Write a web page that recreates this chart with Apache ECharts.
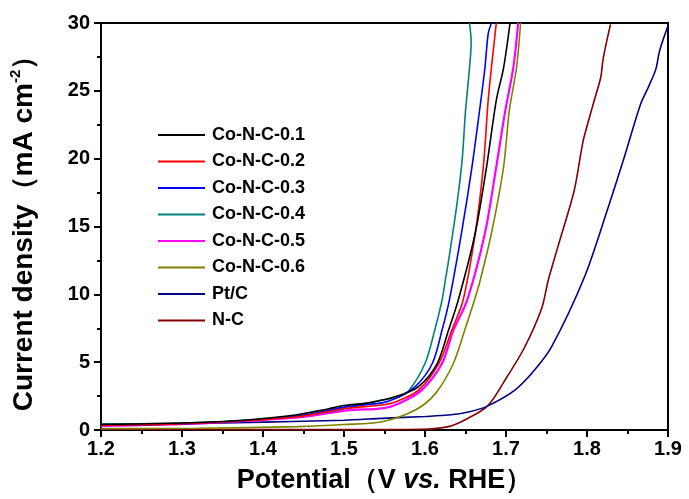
<!DOCTYPE html>
<html>
<head>
<meta charset="utf-8">
<script src="https://cdn.jsdelivr.net/npm/echarts@6/dist/echarts.min.js"></script>
<style>
html,body{margin:0;padding:0;background:#fff;}
#chart{width:689px;height:499px;}
</style>
</head>
<body>
<div id="chart"></div>
<script>
// Series names
const seriesNames = ['Co-N-C-0.1','Co-N-C-0.2','Co-N-C-0.3','Co-N-C-0.4','Co-N-C-0.5','Co-N-C-0.6','Pt/C','N-C'];
const seriesColors = ['#000000','#ff0000','#0000ff','#008080','#ff00ff','#808000','#000080','#800000'];

// [Potential (V vs RHE), Current density (mA cm-2)]
const coNC01 = [[1.20,0.40],[1.32,0.55],[1.38,0.74],[1.44,1.10],[1.48,1.55],[1.50,1.80],[1.53,2.00],[1.566,2.50],[1.592,3.20],[1.615,4.90],[1.629,7.35],[1.641,9.56],[1.662,14.5],[1.676,19.4],[1.688,24.3],[1.697,26.7],[1.705,30]];
const coNC02 = [[1.20,0.35],[1.32,0.50],[1.443,0.98],[1.504,1.60],[1.547,1.84],[1.564,2.08],[1.592,2.94],[1.617,4.90],[1.633,7.35],[1.647,9.56],[1.662,14.5],[1.672,19.4],[1.678,24.3],[1.682,26.7],[1.688,30]];
const coNC03 = [[1.20,0.35],[1.32,0.50],[1.443,1.03],[1.504,1.72],[1.547,2.00],[1.564,2.33],[1.588,3.20],[1.609,4.90],[1.621,7.35],[1.630,9.56],[1.645,14.5],[1.658,19.4],[1.669,24.3],[1.674,26.7],[1.678,29.2],[1.682,30]];
const coNC04 = [[1.20,0.45],[1.32,0.55],[1.443,1.00],[1.504,1.60],[1.547,2.20],[1.566,2.40],[1.580,2.90],[1.600,4.90],[1.612,7.35],[1.621,9.56],[1.625,11.0],[1.631,13.2],[1.640,16.9],[1.646,20.0],[1.650,23.5],[1.655,26.7],[1.657,28.6],[1.655,30]];
const coNC05 = [[1.20,0.30],[1.32,0.49],[1.443,0.93],[1.504,1.45],[1.547,1.60],[1.568,1.96],[1.596,2.94],[1.621,4.90],[1.635,7.35],[1.652,9.56],[1.674,14.5],[1.688,19.4],[1.699,23.5],[1.709,26.7],[1.715,30]];
const coNC06 = [[1.20,0.10],[1.32,0.13],[1.443,0.25],[1.50,0.40],[1.547,0.61],[1.588,1.47],[1.613,2.70],[1.635,4.90],[1.649,7.35],[1.661,9.56],[1.668,11.0],[1.682,14.5],[1.697,19.4],[1.704,23.5],[1.713,26.7],[1.718,30]];
const ptC = [[1.20,0.35],[1.30,0.45],[1.40,0.58],[1.50,0.72],[1.547,0.86],[1.60,1.00],[1.629,1.10],[1.655,1.35],[1.677,1.76],[1.711,2.94],[1.735,4.40],[1.756,6.10],[1.797,11.3],[1.825,16.2],[1.846,20.1],[1.866,24.0],[1.876,25.3],[1.885,26.6],[1.889,27.8],[1.893,28.6],[1.900,29.8]];
const nC = [[1.20,0.05],[1.40,0.03],[1.55,0.03],[1.596,0.05],[1.629,0.25],[1.649,0.74],[1.677,1.76],[1.699,3.70],[1.723,6.10],[1.744,8.95],[1.752,11.0],[1.764,13.5],[1.784,17.6],[1.793,20.6],[1.796,21.5],[1.809,24.3],[1.817,26.0],[1.820,27.4],[1.829,29.9]];

const allData = [coNC01, coNC02, coNC03, coNC04, coNC05, coNC06, ptC, nC];

const xMin = 1.2, xMax = 1.9, xStep = 0.1;
const yMin = 0, yMax = 30, yStep = 5;

const FONT = '"Liberation Sans", Arial, sans-serif';

const chart = echarts.init(document.getElementById('chart'));
const series = allData.map((d, i) => ({
  name: seriesNames[i],
  type: 'line',
  data: d,
  smooth: 0.3,
  symbol: 'none',
  clip: true,
  lineStyle: { color: seriesColors[i], width: i === 4 ? 2.2 : 1.6 },
  itemStyle: { color: seriesColors[i] },
  z: 10 - i
}));

chart.setOption({
  animation: false,
  backgroundColor: '#ffffff',
  grid: { left: 97, right: 21, top: 23, bottom: 69, show: true, borderColor: '#000', borderWidth: 2, backgroundColor: 'transparent' },
  legend: {
    orient: 'vertical',
    left: 153,
    top: 121,
    icon: 'rect',
    itemWidth: 47,
    itemHeight: 2,
    itemGap: 8.5,
    data: seriesNames,
    textStyle: { fontFamily: FONT, fontWeight: 'bold', fontSize: 18, lineHeight: 18, color: '#000', padding: [0, 0, 0, 2] }
  },
  xAxis: {
    type: 'value',
    min: xMin, max: xMax, interval: xStep,
    axisLine: { show: true, onZero: false, lineStyle: { color: '#000', width: 2 } },
    axisTick: { show: true, inside: false, length: 7, lineStyle: { color: '#000', width: 2 } },
    minorTick: { show: true, splitNumber: 2, length: 4, lineStyle: { color: '#000', width: 2 } },
    splitLine: { show: false },
    axisLabel: { margin: 9, fontFamily: FONT, fontWeight: 'bold', fontSize: 20, color: '#000', formatter: v => v.toFixed(1) },
    name: '{n|Potential（V }{i|vs.}{n| RHE）}',
    nameLocation: 'middle',
    nameGap: 37,
    nameTextStyle: {
      rich: {
        n: { fontFamily: FONT, fontWeight: 'bold', fontSize: 27, color: '#000' },
        i: { fontFamily: FONT, fontWeight: 'bold', fontStyle: 'italic', fontSize: 27, color: '#000' }
      }
    }
  },
  yAxis: {
    type: 'value',
    min: yMin, max: yMax, interval: yStep,
    axisLine: { show: true, onZero: false, lineStyle: { color: '#000', width: 2 } },
    axisTick: { show: true, inside: false, length: 7, lineStyle: { color: '#000', width: 2 } },
    minorTick: { show: true, splitNumber: 2, length: 4, lineStyle: { color: '#000', width: 2 } },
    splitLine: { show: false },
    axisLabel: { margin: 11, fontFamily: FONT, fontWeight: 'bold', fontSize: 20, color: '#000' },
    name: '{n|Current density（mA cm}{s|-2}{n|）}',
    nameLocation: 'middle',
    nameGap: 61,
    nameRotate: 90,
    nameTextStyle: {
      rich: {
        n: { fontFamily: FONT, fontWeight: 'bold', fontSize: 28, color: '#000', lineHeight: 32 },
        s: { fontFamily: FONT, fontWeight: 'bold', fontSize: 15, color: '#000', verticalAlign: 'top', lineHeight: 32, padding: [0, 0, 12, 0] }
      }
    }
  },
  series: series
});
</script>
</body>
</html>
